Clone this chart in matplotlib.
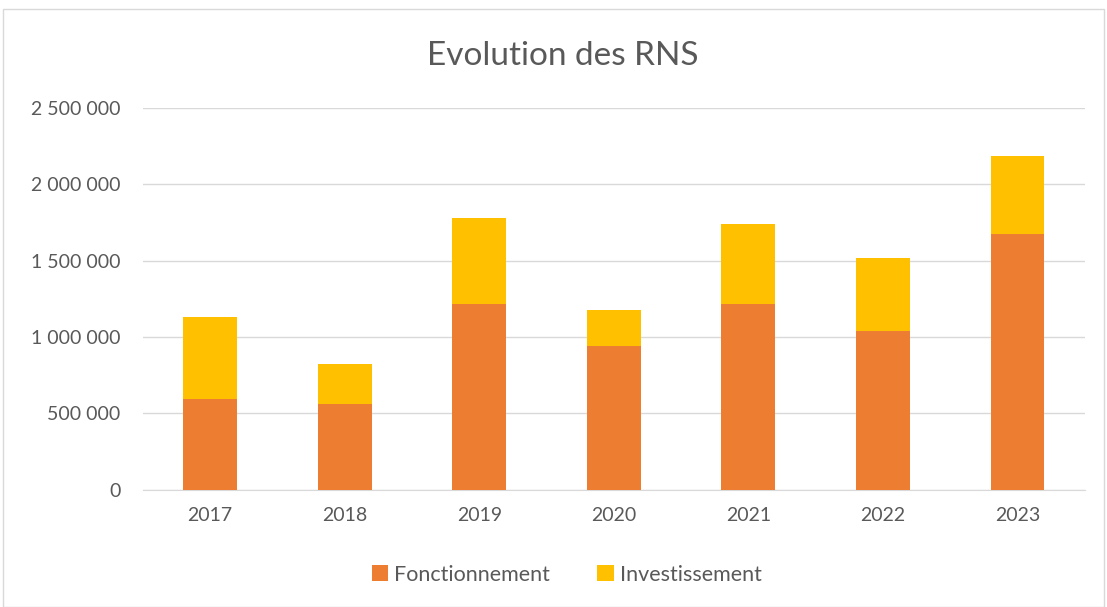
import matplotlib.pyplot as plt
from matplotlib.patches import Rectangle
from matplotlib.ticker import FuncFormatter

plt.rcParams['font.family'] = ['Lato', 'DejaVu Sans']

# Data
years = ['2017', '2018', '2019', '2020', '2021', '2022', '2023']
fonctionnement = [596000, 565000, 1215000, 944000, 1215000, 1041000, 1675000]
total = [1130000, 827000, 1780000, 1178000, 1741000, 1518000, 2186000]
investissement = [t - f for t, f in zip(total, fonctionnement)]

orange = '#ED7D31'
yellow = '#FFC000'
text_col = '#595959'

fig = plt.figure(figsize=(11.07, 6.07), dpi=100)
fig.patches.append(Rectangle((0.003, 0.0), 0.994, 0.985, transform=fig.transFigure,
                             fill=False, edgecolor='#d9d9d9', linewidth=1))

ax = fig.add_axes([0.129, 0.193, 0.851, 0.629])
x = range(len(years))
ax.bar(x, fonctionnement, width=0.4, color=orange, label='Fonctionnement', zorder=3)
ax.bar(x, investissement, width=0.4, bottom=fonctionnement, color=yellow,
       label='Investissement', zorder=3)

ax.set_ylim(0, 2500000)
ax.set_xlim(-0.5, len(years) - 0.5)
ax.set_yticks(range(0, 2500001, 500000))
ax.yaxis.set_major_formatter(FuncFormatter(lambda v, p: f'{int(v):,}'.replace(',', ' ')))
ax.set_xticks(list(x))
ax.set_xticklabels(years)
ax.grid(axis='y', color='#d9d9d9', linewidth=1, zorder=0)
for s in ['top', 'right', 'left']:
    ax.spines[s].set_visible(False)
ax.spines['bottom'].set_color('#d9d9d9')
ax.tick_params(axis='both', length=0, labelsize=14, colors=text_col, pad=12)
ax.tick_params(axis='y', pad=16)

fig.text(0.508, 0.908, 'Evolution des RNS', ha='center', va='center', fontsize=24, color=text_col)

fig.legend(loc='center', bbox_to_anchor=(0.512, 0.053), ncol=2, frameon=False,
           fontsize=15.5, labelcolor=text_col, handlelength=0.75, handleheight=0.75,
           columnspacing=2.2, handletextpad=0.3)

plt.savefig('out.png', dpi=100)
